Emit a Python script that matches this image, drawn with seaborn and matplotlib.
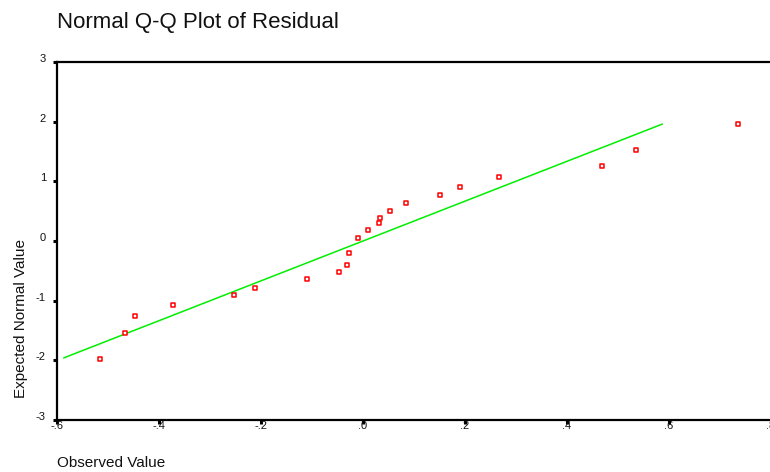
import matplotlib
matplotlib.use("Agg")
import matplotlib.pyplot as plt
import matplotlib.transforms as mtransforms
import seaborn as sns
import pandas as pd

# Residuals (observed) and their expected normal scores
observed = [-0.515, -0.466, -0.448, -0.372, -0.252, -0.212, -0.109, -0.047,
            -0.031, -0.028, -0.009, 0.009, 0.031, 0.033, 0.052, 0.085,
            0.151, 0.191, 0.266, 0.468, 0.535, 0.736]
expected = [-1.97, -1.54, -1.26, -1.07, -0.91, -0.78, -0.64, -0.52,
            -0.41, -0.20, 0.05, 0.19, 0.30, 0.39, 0.51, 0.63,
            0.77, 0.90, 1.07, 1.25, 1.52, 1.96]

# Reference line endpoints
line_x = [-0.587, 0.587]
line_y = [-1.96, 1.96]

x_ticks = [-0.6, -0.4, -0.2, 0.0, 0.2, 0.4, 0.6, 0.8]
x_tick_labels = ["-.6", "-.4", "-.2", ".0", ".2", ".4", ".6", ".8"]
y_ticks = [-3, -2, -1, 0, 1, 2, 3]
y_tick_labels = ["-3", "-2", "-1", "0", "1", "2", "3"]

sns.set_style("white")
plt.rcParams["font.family"] = ["Liberation Sans", "DejaVu Sans"]

fig = plt.figure(figsize=(7.7, 4.72), dpi=100)
ax = fig.add_axes([57 / 770, 52 / 472, 714 / 770, 358 / 472])

pts = pd.DataFrame({"observed": observed, "expected": expected})
ref = pd.DataFrame({"x": line_x, "y": line_y})

sns.lineplot(data=ref, x="x", y="y", ax=ax, color="#00ee00", linewidth=1.1,
             zorder=2)
sns.scatterplot(data=pts, x="observed", y="expected", ax=ax, marker="s",
                s=6, facecolor="white", edgecolor="#ff0000", linewidth=1.1,
                zorder=3)

ax.set_xlim(-0.6, 0.8)
ax.set_ylim(-3, 3)
ax.set_xticks(x_ticks)
ax.set_xticklabels(x_tick_labels)
ax.set_yticks(y_ticks)
ax.set_yticklabels(y_tick_labels)
ax.set_xlabel("")
ax.set_ylabel("")

ax.tick_params(axis="both", which="major", direction="out", length=3,
               width=2.2, color="black", labelsize=8, labelcolor="#111111",
               bottom=True, left=True)
ax.tick_params(axis="x", pad=-2)
ax.tick_params(axis="y", pad=5)

# Lift the y tick labels slightly above their ticks
offset = mtransforms.ScaledTranslation(0, 4 / 100, fig.dpi_scale_trans)
for lbl in ax.get_yticklabels():
    lbl.set_transform(lbl.get_transform() + offset)

for side in ("left", "top", "bottom"):
    ax.spines[side].set_visible(True)
    ax.spines[side].set_color("black")
    ax.spines[side].set_linewidth(1.6)
ax.spines["right"].set_visible(False)

fig.text(57 / 770, 1 - 28 / 472, "Normal Q-Q Plot of Residual", fontsize=16,
         ha="left", va="baseline", color="#111111")
fig.text(57 / 770, 1 - 467 / 472, "Observed Value", fontsize=11,
         ha="left", va="baseline", color="#111111")
fig.text(21 / 770, 1 - 319 / 472, "Expected Normal Value", fontsize=11,
         ha="center", va="center", rotation=90, color="#111111")

fig.savefig("out.png", dpi=100, facecolor="white")
